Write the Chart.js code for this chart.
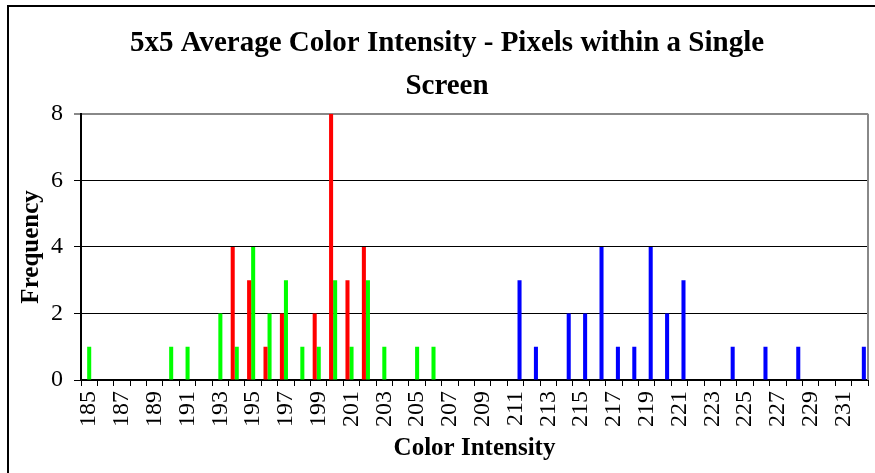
<!DOCTYPE html>
<html>
<head>
<meta charset="utf-8">
<script src="https://cdn.jsdelivr.net/npm/chart.js@4/dist/chart.umd.min.js"></script>
<style>
  html, body { margin: 0; padding: 0; background: #fff; }
  #wrap { width: 875px; height: 473px; position: relative; }
</style>
</head>
<body>
<div id="wrap"><canvas id="c" width="875" height="473"></canvas></div>
<script>
// Color intensity bins (x categories)
const intensities = [
  185, 186, 187, 188, 189, 190, 191, 192, 193, 194, 195, 196,
  197, 198, 199, 200, 201, 202, 203, 204, 205, 206, 207, 208,
  209, 210, 211, 212, 213, 214, 215, 216, 217, 218, 219, 220,
  221, 222, 223, 224, 225, 226, 227, 228, 229, 230, 231, 232
];

// Pixel counts per bin for each channel
const redCounts = [
  0, 0, 0, 0, 0, 0, 0, 0, 0, 4, 3, 1,
  2, 0, 2, 8, 3, 4, 0, 0, 0, 0, 0, 0,
  0, 0, 0, 0, 0, 0, 0, 0, 0, 0, 0, 0,
  0, 0, 0, 0, 0, 0, 0, 0, 0, 0, 0, 0
];
const greenCounts = [
  1, 0, 0, 0, 0, 1, 1, 0, 2, 1, 4, 2,
  3, 1, 1, 3, 1, 3, 1, 0, 1, 1, 0, 0,
  0, 0, 0, 0, 0, 0, 0, 0, 0, 0, 0, 0,
  0, 0, 0, 0, 0, 0, 0, 0, 0, 0, 0, 0
];
const blueCounts = [
  0, 0, 0, 0, 0, 0, 0, 0, 0, 0, 0, 0,
  0, 0, 0, 0, 0, 0, 0, 0, 0, 0, 0, 0,
  0, 0, 3, 1, 0, 2, 2, 4, 1, 1, 4, 2,
  3, 0, 0, 1, 0, 1, 0, 1, 0, 0, 0, 1
];

const yTicks = [0, 2, 4, 6, 8];

const SERIF = "'Liberation Serif', 'DejaVu Serif', serif";

// White page, outer chart frame, and the grey right edge of the plot
const framePlugin = {
  id: 'frame',
  afterLayout(chart) {
    // title sits a little right of the canvas centre
    const t = chart.titleBlock;
    if (t) { t.left += 13; t.right += 13; }
  },
  beforeDraw(chart) {
    const ctx = chart.ctx;
    ctx.save();
    ctx.fillStyle = '#fff';
    ctx.fillRect(0, 0, chart.width, chart.height);
    ctx.strokeStyle = '#000';
    ctx.lineWidth = 2;
    ctx.strokeRect(8, 6, chart.width + 20, chart.height + 20);
    ctx.restore();
  },
  afterDatasetsDraw(chart) {
    const { ctx, chartArea } = chart;
    ctx.save();
    ctx.strokeStyle = '#888';
    ctx.lineWidth = 2;
    ctx.beginPath();
    ctx.moveTo(chartArea.right, chartArea.top);
    ctx.lineTo(chartArea.right, chartArea.bottom);
    ctx.stroke();
    ctx.restore();
  }
};

new Chart(document.getElementById('c'), {
  type: 'bar',
  data: {
    labels: intensities,
    datasets: [
      { label: 'Red', data: redCounts, backgroundColor: '#ff0000' },
      { label: 'Green', data: greenCounts, backgroundColor: '#00ff00' },
      { label: 'Blue', data: blueCounts, backgroundColor: '#0000ff' }
    ]
  },
  options: {
    responsive: false,
    animation: false,
    devicePixelRatio: 1,
    layout: { padding: { left: 0, right: 7, top: 0, bottom: 0 } },
    datasets: {
      bar: { categoryPercentage: 0.74, barPercentage: 1.0, borderWidth: 0 }
    },
    plugins: {
      legend: { display: false },
      tooltip: { enabled: false },
      title: {
        display: true,
        text: ['5x5 Average Color Intensity - Pixels within a Single', 'Screen'],
        color: '#000',
        font: { family: SERIF, size: 29, weight: 'bold', lineHeight: 1.48 },
        padding: { top: 22, bottom: 6 }
      }
    },
    scales: {
      x: {
        offset: true,
        grid: {
          offset: true,
          drawOnChartArea: false,
          drawTicks: true,
          tickLength: 6,
          color: '#000',
          tickColor: '#000'
        },
        border: { display: true, color: '#000', width: 2 },
        ticks: {
          autoSkip: false,
          maxRotation: 90,
          minRotation: 90,
          padding: 5,
          color: '#000',
          font: { family: SERIF, size: 24 },
          callback: function (value, index) {
            return index % 2 === 0 ? String(intensities[index]) : '';
          }
        },
        title: {
          display: true,
          text: 'Color Intensity',
          color: '#000',
          font: { family: SERIF, size: 25, weight: 'bold' },
          padding: { top: 0, bottom: 9 }
        },
        afterFit(scale) {
          scale.height = 93;
          scale.paddingLeft = 0;
          scale.paddingRight = 0;
        }
      },
      y: {
        min: 0,
        max: 8,
        afterBuildTicks(scale) { scale.ticks = yTicks.map(v => ({ value: v })); },
        grid: {
          drawTicks: true,
          tickLength: 7,
          color: ctx => (ctx.tick && ctx.tick.value === 8) ? '#888' : '#000',
          lineWidth: ctx => (ctx.tick && ctx.tick.value === 8) ? 2 : 1,
          tickColor: ctx => (ctx.tick && ctx.tick.value === 8) ? '#888' : '#000'
        },
        border: { display: true, color: '#000', width: 2 },
        ticks: {
          padding: 11,
          color: '#000',
          font: { family: SERIF, size: 24 }
        },
        title: {
          display: true,
          text: 'Frequency',
          color: '#000',
          font: { family: SERIF, size: 25, weight: 'bold' },
          padding: { top: 17, bottom: 0 }
        },
        afterFit(scale) { scale.width = 81; }
      }
    }
  },
  plugins: [framePlugin]
});
</script>
</body>
</html>
